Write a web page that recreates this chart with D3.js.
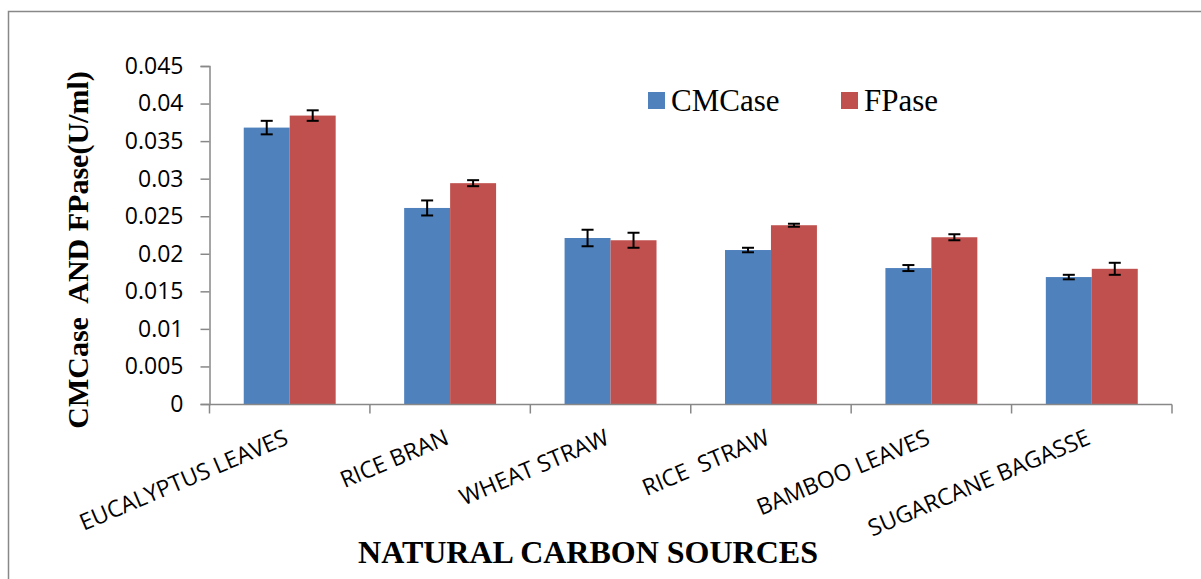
<!DOCTYPE html>
<html>
<head>
<meta charset="utf-8">
<script src="https://cdn.jsdelivr.net/npm/d3@7"></script>
<style>
  html, body { margin: 0; padding: 0; background: #fff; }
  svg { display: block; }
</style>
</head>
<body>
<svg id="chart" width="1201" height="579"></svg>
<script>
// Enzyme activity (U/ml) on natural carbon sources
const categories = ["EUCALYPTUS LEAVES", "RICE BRAN", "WHEAT STRAW", "RICE  STRAW", "BAMBOO LEAVES", "SUGARCANE BAGASSE"];
const seriesNames = ["CMCase", "FPase"];
const cmcase = [0.0368, 0.0261, 0.0221, 0.0205, 0.0181, 0.0169];
const fpase = [0.0384, 0.0294, 0.0218, 0.0238, 0.0222, 0.0180];
const cmcaseErr = [0.0009, 0.0010, 0.0011, 0.0003, 0.0004, 0.0003];
const fpaseErr = [0.0007, 0.0004, 0.0010, 0.0002, 0.0004, 0.0008];
const yTicks = [0, 0.005, 0.01, 0.015, 0.02, 0.025, 0.03, 0.035, 0.04, 0.045];
const yTickLabels = ["0", "0.005", "0.01", "0.015", "0.02", "0.025", "0.03", "0.035", "0.04", "0.045"];

const colors = { CMCase: "#4F81BD", FPase: "#C0504D" };
const values = { CMCase: cmcase, FPase: fpase };
const errors = { CMCase: cmcaseErr, FPase: fpaseErr };

const svg = d3.select("#chart");
const axisColor = "#888888";

// outer chart frame
svg.append("rect")
  .attr("x", 8.5).attr("y", 11.5)
  .attr("width", 1400).attr("height", 800)
  .attr("fill", "none").attr("stroke", axisColor).attr("stroke-width", 1.5);

const plot = { left: 209.5, right: 1172, top: 66, bottom: 404 };

const x0 = d3.scaleBand().domain(categories).range([plot.left, plot.right]).paddingInner(0).paddingOuter(0);
const x1 = d3.scaleBand().domain(seriesNames).range([0, x0.bandwidth()]).paddingInner(0).paddingOuter(0.745);
const y = d3.scaleLinear().domain([0, 0.045]).range([plot.bottom, plot.top]);

// bars
const rows = categories.map((c, i) => ({ c, i }));
const groups = svg.append("g").selectAll("g").data(rows).join("g")
  .attr("transform", d => `translate(${x0(d.c)},0)`);

groups.selectAll("rect")
  .data(d => seriesNames.map(s => ({ s, v: values[s][d.i] })))
  .join("rect")
  .attr("x", d => x1(d.s))
  .attr("y", d => y(d.v))
  .attr("width", x1.bandwidth())
  .attr("height", d => y(0) - y(d.v))
  .attr("fill", d => colors[d.s]);

// error bars
const capW = 12;
const eb = groups.selectAll("g.err")
  .data(d => seriesNames.map(s => ({ s, v: values[s][d.i], e: errors[s][d.i] })))
  .join("g").attr("class", "err")
  .attr("stroke", "#000").attr("stroke-width", 2);
eb.append("line")
  .attr("x1", d => x1(d.s) + x1.bandwidth() / 2)
  .attr("x2", d => x1(d.s) + x1.bandwidth() / 2)
  .attr("y1", d => y(d.v + d.e)).attr("y2", d => y(d.v - d.e));
eb.append("line")
  .attr("x1", d => x1(d.s) + x1.bandwidth() / 2 - capW / 2)
  .attr("x2", d => x1(d.s) + x1.bandwidth() / 2 + capW / 2)
  .attr("y1", d => y(d.v + d.e)).attr("y2", d => y(d.v + d.e));
eb.append("line")
  .attr("x1", d => x1(d.s) + x1.bandwidth() / 2 - capW / 2)
  .attr("x2", d => x1(d.s) + x1.bandwidth() / 2 + capW / 2)
  .attr("y1", d => y(d.v - d.e)).attr("y2", d => y(d.v - d.e));

// y axis
const yAxis = d3.axisLeft(y).tickValues(yTicks)
  .tickFormat((d, i) => yTickLabels[i]).tickSize(9).tickPadding(17);
const gy = svg.append("g").attr("transform", `translate(${plot.left},0)`).call(yAxis);
gy.select(".domain").attr("stroke", axisColor).attr("stroke-width", 1.5);
gy.selectAll(".tick line").attr("stroke", axisColor).attr("stroke-width", 1.5);
gy.selectAll(".tick text")
  .attr("font-family", "'Open Sans', sans-serif").attr("font-size", 23).attr("fill", "#000");

// x axis: ticks at category boundaries
const boundaries = categories.map(c => x0(c)).concat([x0.range()[1]]);
const gx = svg.append("g").attr("transform", `translate(0,${plot.bottom + 0.5})`);
gx.append("line").attr("x1", plot.left).attr("x2", plot.right)
  .attr("stroke", axisColor).attr("stroke-width", 1.5);
gx.selectAll("line.tk").data(boundaries).join("line").attr("class", "tk")
  .attr("x1", d => d).attr("x2", d => d).attr("y1", 0).attr("y2", 9)
  .attr("stroke", axisColor).attr("stroke-width", 1.5);

// rotated category labels, upper-right corner at the category centre
gx.selectAll("text").data(categories).join("text")
  .attr("transform", c => `translate(${x0(c) + x0.bandwidth() / 2},39) rotate(-23)`)
  .attr("text-anchor", "end")
  .attr("font-family", "'Open Sans', sans-serif").attr("font-size", 23)
  .attr("fill", "#000")
  .attr("xml:space", "preserve")
  .text(c => c);

// axis titles
svg.append("text")
  .attr("x", 588).attr("y", 563)
  .attr("text-anchor", "middle")
  .attr("font-family", "'Liberation Serif', 'Times New Roman', serif")
  .attr("font-weight", "bold").attr("font-size", 32).attr("fill", "#000")
  .text("NATURAL CARBON SOURCES");

svg.append("text")
  .attr("transform", "translate(88,250) rotate(-90)")
  .attr("text-anchor", "middle")
  .attr("font-family", "'Liberation Serif', 'Times New Roman', serif")
  .attr("font-weight", "bold").attr("font-size", 30).attr("fill", "#000")
  .attr("xml:space", "preserve")
  .text("CMCase  AND FPase(U/ml)");

// legend
const legendX = [648, 841];
const legend = svg.append("g").selectAll("g").data(seriesNames).join("g")
  .attr("transform", (d, i) => `translate(${legendX[i]},92)`);
legend.append("rect").attr("width", 17).attr("height", 17).attr("fill", d => colors[d]);
legend.append("text").attr("x", 23).attr("y", 18.5)
  .attr("font-family", "'Liberation Serif', 'Times New Roman', serif")
  .attr("font-size", 31).attr("fill", "#000")
  .text(d => d);
</script>
</body>
</html>
